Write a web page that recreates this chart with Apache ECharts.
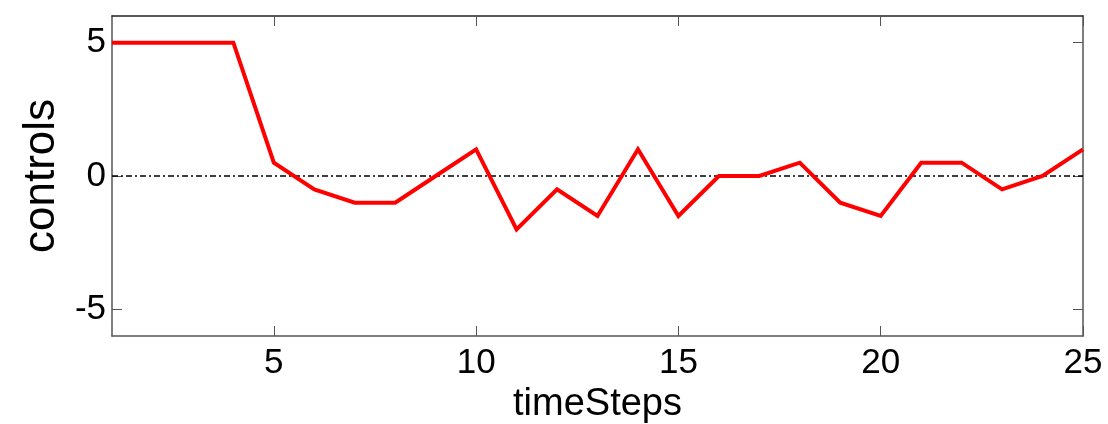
<!DOCTYPE html>
<html>
<head>
<meta charset="utf-8">
<script src="https://cdn.jsdelivr.net/npm/echarts@6/dist/echarts.min.js"></script>
<style>
  html, body { margin: 0; padding: 0; background: #fff; }
  #chart { width: 1108px; height: 424px; }
</style>
</head>
<body>
<div id="chart"></div>
<script>
// Control input per time step
const timeSteps = [1, 2, 3, 4, 5, 6, 7, 8, 9, 10, 11, 12, 13, 14, 15, 16, 17, 18, 19, 20, 21, 22, 23, 24, 25];
const controls = [5, 5, 5, 5, 0.5, -0.5, -1, -1, 0, 1, -2, -0.5, -1.5, 1, -1.5, 0, 0, 0.5, -1, -1.5, 0.5, 0.5, -0.5, 0, 1];
// Zero reference line endpoints
const zeroLineX = [1, 25];
const zeroLineY = [0, 0];
// Tick labels
const xTicks = [5, 10, 15, 20, 25];
const yTicks = [-5, 0, 5];

const FONT = 'Liberation Sans, Arial, sans-serif';
const boxColor = '#555';

const chart = echarts.init(document.getElementById('chart'), null, { renderer: 'canvas' });

function xAxisDef(pos, showLabels) {
  return {
    type: 'value', position: pos, min: 1, max: 25,
    name: showLabels ? 'timeSteps' : '',
    nameLocation: 'middle', nameGap: 46,
    nameTextStyle: { fontFamily: FONT, fontSize: 38, color: '#000' },
    axisLine: { show: true, onZero: false, lineStyle: { color: pos === 'top' ? '#222' : boxColor, width: 1.5 } },
    axisTick: { show: true, inside: true, length: 10, customValues: xTicks, lineStyle: { color: boxColor, width: 1 } },
    axisLabel: { show: showLabels, customValues: xTicks, margin: 10, fontFamily: FONT, fontSize: 35, color: '#000' },
    splitLine: { show: false }
  };
}
function yAxisDef(pos, showLabels) {
  return {
    type: 'value', position: pos, min: -6, max: 6,
    name: showLabels ? 'controls' : '',
    nameLocation: 'middle', nameGap: 42, nameRotate: 90,
    nameTextStyle: { fontFamily: FONT, fontSize: 44, color: '#000' },
    axisLine: { show: true, onZero: false, lineStyle: { color: boxColor, width: 1.5 } },
    axisTick: { show: true, inside: true, length: 10, customValues: yTicks, lineStyle: { color: boxColor, width: 1 } },
    axisLabel: { show: showLabels, customValues: yTicks, margin: 6, fontFamily: FONT, fontSize: 35, color: '#000' },
    splitLine: { show: false }
  };
}

chart.setOption({
  animation: false,
  backgroundColor: '#fff',
  grid: { left: 112, right: 25, top: 16, bottom: 88, containLabel: false, outerBoundsMode: 'none' },
  xAxis: [xAxisDef('bottom', true), xAxisDef('top', false)],
  yAxis: [yAxisDef('left', true), yAxisDef('right', false)],
  series: [
    {
      type: 'line',
      data: zeroLineX.map((x, i) => [x, zeroLineY[i]]),
      symbol: 'none',
      lineStyle: { color: '#000', width: 1.6, type: [6, 3, 2, 3] },
      z: 1
    },
    {
      type: 'line',
      data: timeSteps.map((t, i) => [t, controls[i]]),
      symbol: 'none',
      lineStyle: { color: '#ff0000', width: 4, join: 'miter' },
      z: 2
    }
  ]
});
</script>
</body>
</html>
